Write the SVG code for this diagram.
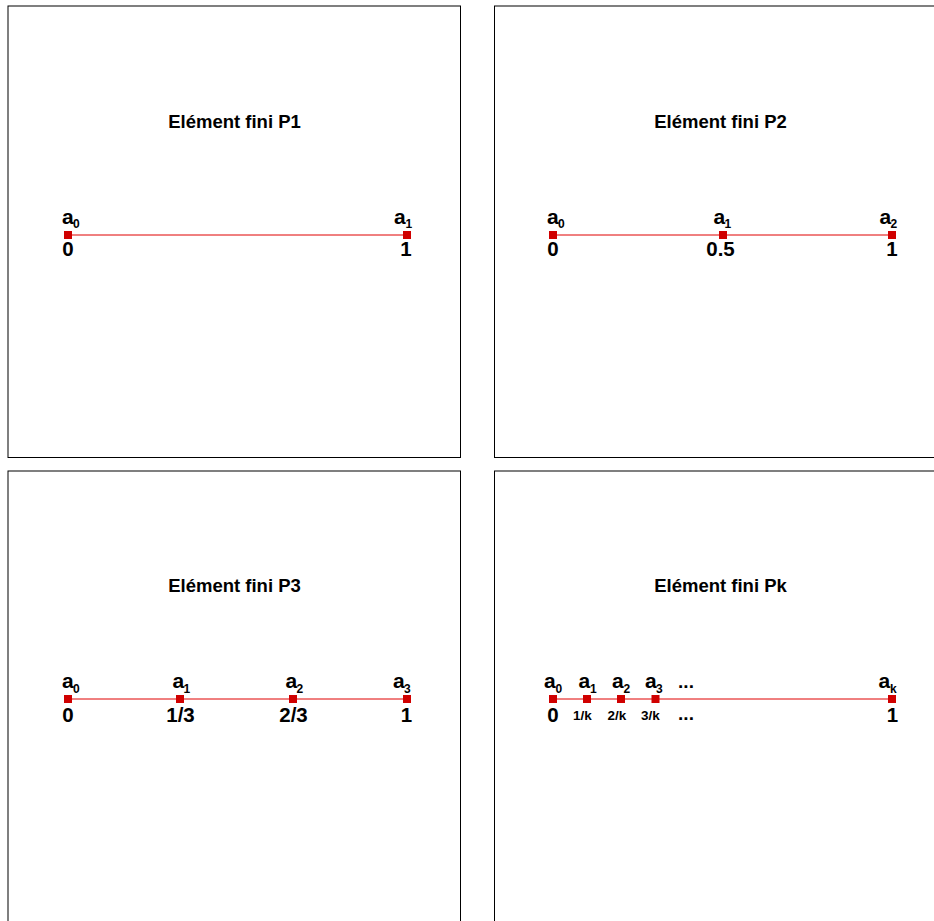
<svg xmlns="http://www.w3.org/2000/svg" width="934" height="921" viewBox="0 0 934 921">
<style>
.panel{fill:#fff;stroke:#000;stroke-width:1}
.title{font-family:"Liberation Sans",Arial,sans-serif;font-weight:bold;font-size:18.5px;text-anchor:middle;fill:#000}
.a{font-family:"Liberation Sans",Arial,sans-serif;font-weight:bold;font-size:21px;fill:#000}
.sub{font-size:12px}
.num{font-family:"Liberation Sans",Arial,sans-serif;font-weight:bold;font-size:20.5px;text-anchor:middle;fill:#000}
.small{font-size:13.5px}
.seg{stroke:#e00000;stroke-width:1;fill:none}
.node{fill:#d00000}
</style>
<rect width="934" height="921" fill="#fff"/>
<g id="panel-p1">
<rect class="panel" x="8" y="6" width="452.5" height="451.5"/>
<text class="title" x="234.5" y="128">Elément fini P1</text>
</g>
<g id="panel-p2">
<rect class="panel" x="494.5" y="6" width="452.5" height="451.5"/>
<text class="title" x="720.5" y="128">Elément fini P2</text>
</g>
<g id="panel-p3">
<rect class="panel" x="8" y="471" width="452.5" height="460"/>
<text class="title" x="234.5" y="592">Elément fini P3</text>
</g>
<g id="panel-pk">
<rect class="panel" x="494.5" y="471" width="452.5" height="460"/>
<text class="title" x="720.5" y="592">Elément fini Pk</text>
</g>
<g id="connectors">
<line class="seg" x1="68" y1="235" x2="407" y2="235"/>
<line class="seg" x1="553" y1="235" x2="892" y2="235"/>
<line class="seg" x1="68" y1="699" x2="407" y2="699"/>
<line class="seg" x1="553" y1="699" x2="892" y2="699"/>
</g>
<g id="p1-a0">
<rect class="node" x="64" y="231" width="8" height="8"/>
<text class="a" x="62" y="223.5">a<tspan class="sub" x="73" y="228">0</tspan></text>
<text class="num" x="68" y="255.5">0</text>
</g>
<g id="p1-a1">
<rect class="node" x="403" y="231" width="8" height="8"/>
<text class="a" x="394" y="223.5">a<tspan class="sub" x="405.5" y="228">1</tspan></text>
<text class="num" x="406" y="255.5">1</text>
</g>
<g id="p2-a0">
<rect class="node" x="549" y="231" width="8" height="8"/>
<text class="a" x="547" y="223.5">a<tspan class="sub" x="558" y="228">0</tspan></text>
<text class="num" x="553" y="255.5">0</text>
</g>
<g id="p2-a1">
<rect class="node" x="719" y="231" width="8" height="8"/>
<text class="a" x="713.5" y="223.5">a<tspan class="sub" x="724.5" y="228">1</tspan></text>
<text class="num" x="720.5" y="255.5">0.5</text>
</g>
<g id="p2-a2">
<rect class="node" x="888" y="231" width="8" height="8"/>
<text class="a" x="879.5" y="223.5">a<tspan class="sub" x="890.5" y="228">2</tspan></text>
<text class="num" x="892" y="255.5">1</text>
</g>
<g id="p3-a0">
<rect class="node" x="64" y="695" width="8" height="8"/>
<text class="a" x="62" y="688">a<tspan class="sub" x="73" y="692.5">0</tspan></text>
<text class="num" x="68" y="721.5">0</text>
</g>
<g id="p3-a1">
<rect class="node" x="176" y="695" width="8" height="8"/>
<text class="a" x="172.5" y="688">a<tspan class="sub" x="183.5" y="692.5">1</tspan></text>
<text class="num" x="180.5" y="721.5">1/3</text>
</g>
<g id="p3-a2">
<rect class="node" x="289" y="695" width="8" height="8"/>
<text class="a" x="285.5" y="688">a<tspan class="sub" x="296.5" y="692.5">2</tspan></text>
<text class="num" x="293.5" y="721.5">2/3</text>
</g>
<g id="p3-a3">
<rect class="node" x="403" y="695" width="8" height="8"/>
<text class="a" x="393" y="688">a<tspan class="sub" x="404" y="692.5">3</tspan></text>
<text class="num" x="406.5" y="721.5">1</text>
</g>
<g id="pk-a0">
<rect class="node" x="549" y="695" width="8" height="8"/>
<text class="a" x="544" y="688">a<tspan class="sub" x="555.5" y="692.5">0</tspan></text>
<text class="num" x="553" y="721.5">0</text>
</g>
<g id="pk-a1">
<rect class="node" x="583" y="695" width="8" height="8"/>
<text class="a" x="578.5" y="688">a<tspan class="sub" x="590" y="692.5">1</tspan></text>
<text class="num small" x="582.5" y="720">1/k</text>
</g>
<g id="pk-a2">
<rect class="node" x="617" y="695" width="8" height="8"/>
<text class="a" x="612" y="688">a<tspan class="sub" x="623.5" y="692.5">2</tspan></text>
<text class="num small" x="617" y="720">2/k</text>
</g>
<g id="pk-a3">
<rect class="node" x="651.5" y="695" width="8" height="8"/>
<text class="a" x="645" y="688">a<tspan class="sub" x="656" y="692.5">3</tspan></text>
<text class="num small" x="650.5" y="720">3/k</text>
</g>
<g id="pk-dots">
<text class="num" x="686" y="688" style="font-size:19px">...</text>
<text class="num" x="686" y="720" style="font-size:19px">...</text>
</g>
<g id="pk-ak">
<rect class="node" x="888" y="695" width="8" height="8"/>
<text class="a" x="878.5" y="688">a<tspan class="sub" x="890" y="692.5">k</tspan></text>
<text class="num" x="892.5" y="721.5">1</text>
</g>
</svg>
